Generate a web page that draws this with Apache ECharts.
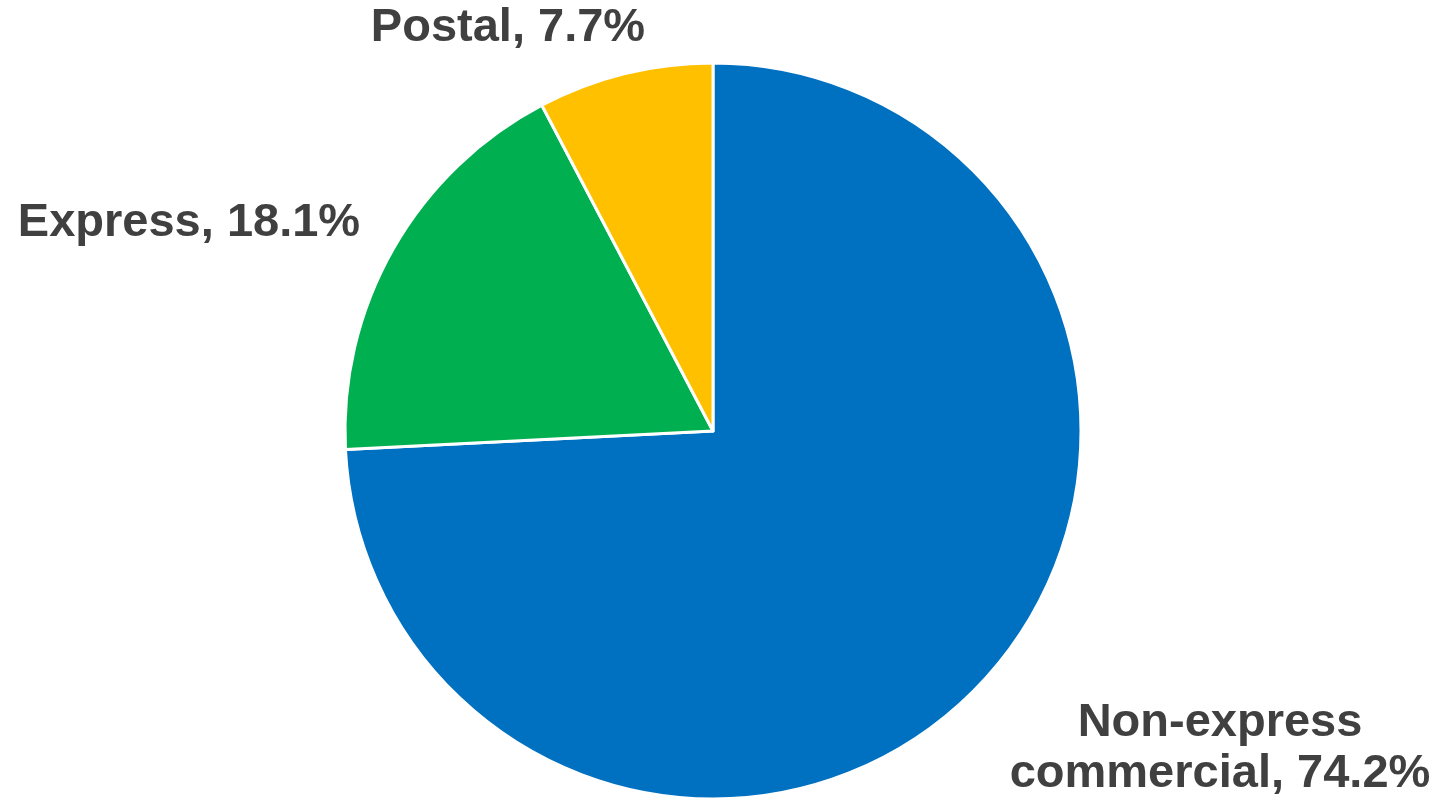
<!DOCTYPE html>
<html>
<head>
<meta charset="utf-8">
<script src="https://cdn.jsdelivr.net/npm/echarts@6/dist/echarts.min.js"></script>
<style>html,body{margin:0;padding:0;background:#fff;}#c{width:1443px;height:804px;}</style>
</head>
<body>
<div id="c"></div>
<script>
const categories = ['Non-express\ncommercial', 'Express', 'Postal'];
const values = [74.2, 18.1, 7.7];
const colors = ['#0070C0', '#00B050', '#FFC000'];
const labelAnchors = [[1220, 749], [189, 223], [508, 28]];

const chart = echarts.init(document.getElementById('c'));
chart.setOption({
  animation: false,
  series: [{
    type: 'pie',
    center: [713, 431],
    radius: 368,
    startAngle: 90,
    clockwise: true,
    avoidLabelOverlap: false,
    itemStyle: { borderColor: '#fff', borderWidth: 3 },
    label: {
      show: true,
      position: 'outside',
      formatter: p => p.name + ', ' + p.value.toFixed(1) + '%',
      color: '#404040',
      fontSize: 47,
      fontWeight: 'bold',
      fontFamily: 'Arial, "Liberation Sans", sans-serif',
      lineHeight: 51,
      align: 'center',
      overflow: 'none',
      width: 600
    },
    labelLine: { show: false },
    labelLayout: p => ({
      x: labelAnchors[p.dataIndex][0],
      y: labelAnchors[p.dataIndex][1],
      align: 'center',
      verticalAlign: 'middle'
    }),
    emphasis: { disabled: true },
    data: categories.map((c, i) => ({ name: c, value: values[i], itemStyle: { color: colors[i] } }))
  }]
});
</script>
</body>
</html>
